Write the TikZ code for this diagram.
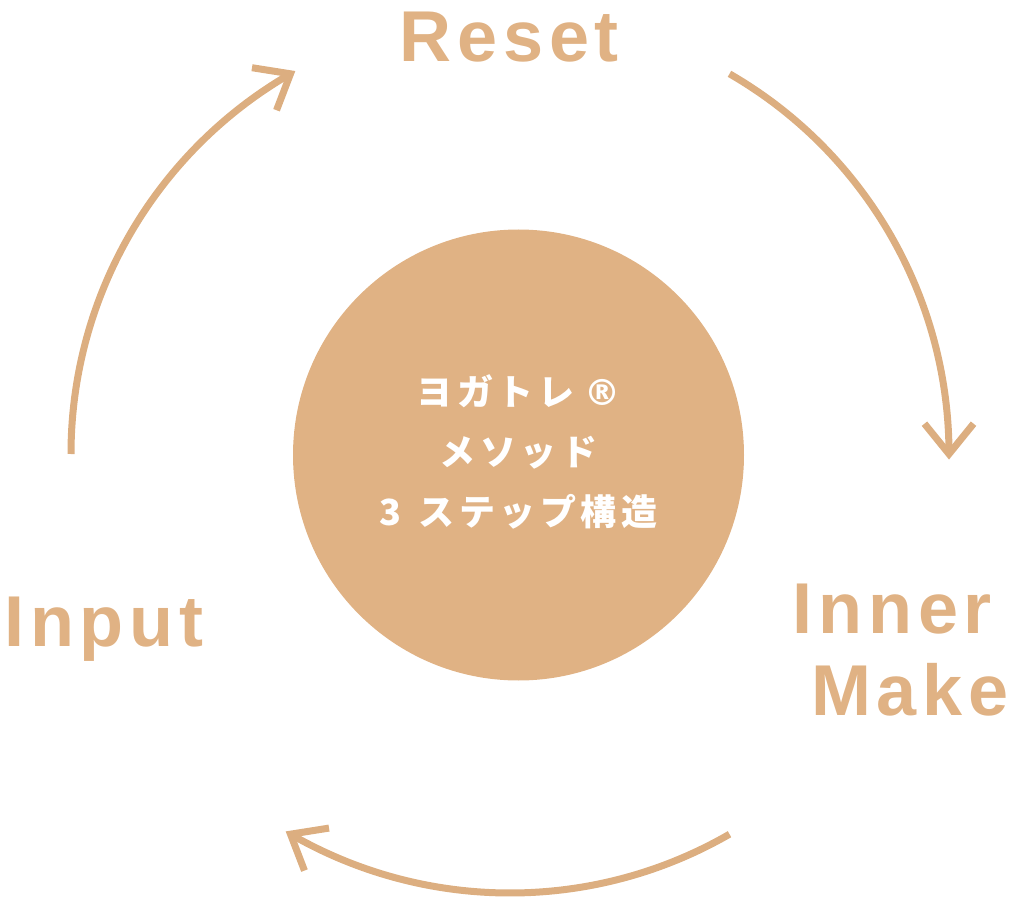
\documentclass[tikz,border=0pt]{standalone}
\usepackage{fontspec}
\newfontfamily\latinlab{Liberation Sans}[LetterSpace=8]
\newfontfamily\jpfont{Noto Sans CJK JP}
\newfontfamily\symfont{DejaVu Sans}
\newcommand\jsp{\hspace{2.25pt}}
\definecolor{arcc}{HTML}{DCAE80}
\definecolor{fillc}{HTML}{E0B284}
\begin{document}
\begin{tikzpicture}[x=0.5pt,y=0.5pt,
  arcline/.style={draw=arcc, line width=3.5pt},
  chev/.style={draw=arcc, line width=3.5pt, miter limit=10},
  lab/.style={text=fillc, font=\latinlab\bfseries\fontsize{36pt}{40pt}\selectfont, inner sep=0pt, anchor=base},
  disc/.style={circle, fill=fillc, minimum size=225.5pt, inner sep=0pt},
  coretxt/.style={text=white, align=center, inner sep=0pt,
    font=\jpfont\bfseries\fontsize{18pt}{30pt}\selectfont}]
\useasboundingbox (0,0) rectangle (1024,-899);
\coordinate (O) at (510,-454);
% central disc
\node[disc] (core) at (518.5,-455) {};
\node[coretxt] (coretext) at (518.5,-452) {ヨ\jsp ガ\jsp ト\jsp レ\hspace{5pt}{\symfont\bfseries ®}\\メ\jsp ソ\jsp ッ\jsp ド\\3\jsp\ \jsp ス\jsp テ\jsp ッ\jsp プ\jsp 構\jsp 造};
% arc end points
\coordinate (Ls) at ([shift={(180:439)}]O);
\coordinate (Lt) at ([shift={(120:439)}]O);
\coordinate (Rs) at ([shift={(60:439)}]O);
\coordinate (Rt) at ([shift={(0:439)}]O);
\coordinate (Bs) at ([shift={(-60:439)}]O);
\coordinate (Bt) at ([shift={(-120:439)}]O);
% arcs
\draw[arcline] (Ls) arc[start angle=180, end angle=120, radius=439];
\draw[arcline] (Rs) arc[start angle=60, end angle=0, radius=439];
\draw[arcline] (Bs) arc[start angle=-60, end angle=-120, radius=439];
% arrowheads
\draw[chev] ([shift={(171:39)}]Lt) -- (Lt) -- ([shift={(249:39)}]Lt);
\draw[chev] ([shift={(51:39)}]Rt) -- (Rt) -- ([shift={(129:39)}]Rt);
\draw[chev] ([shift={(9:39)}]Bt) -- (Bt) -- ([shift={(-69:39)}]Bt);
% labels
\node[lab] (reset) at (509.5,-62) {Reset};
\node[lab] (input) at (104,-646) {Input};
\node[lab] (inner) at (892.5,-633) {Inner};
\node[lab] (make) at (910,-715) {Make};
\end{tikzpicture}
\end{document}
